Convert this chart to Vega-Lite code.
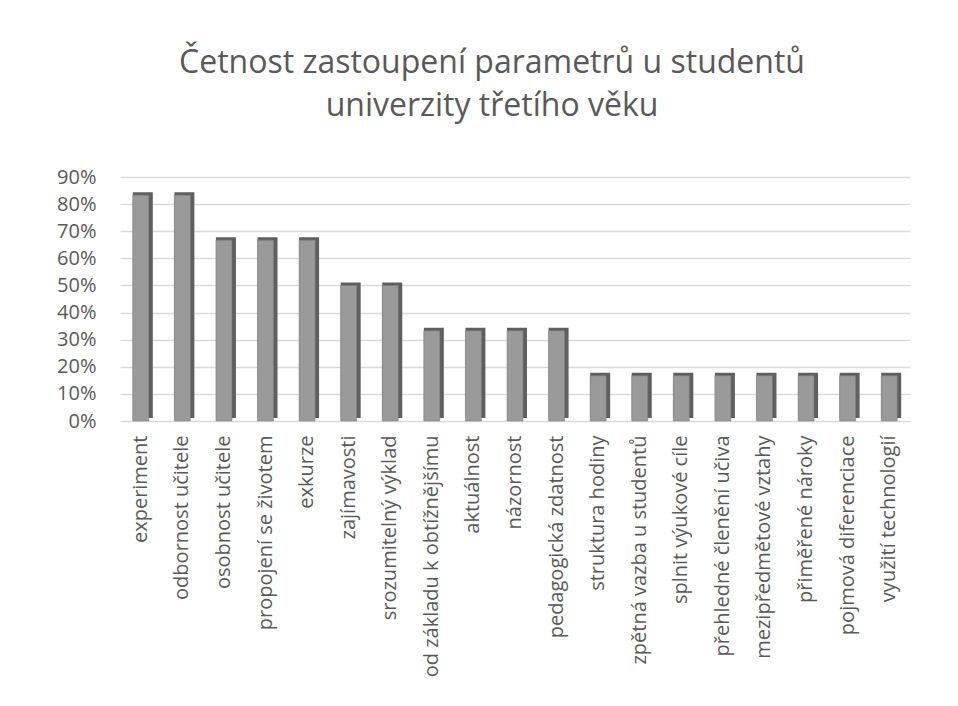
{
  "$schema": "https://vega.github.io/schema/vega-lite/v6.json",
  "autosize": "none",
  "width": 790,
  "height": 244,
  "padding": {"left": 120, "top": 177, "right": 48, "bottom": 285},
  "background": "white",
  "title": {
    "text": ["Četnost zastoupení parametrů u studentů", "univerzity třetího věku"],
    "font": "Open Sans",
    "fontSize": 32,
    "fontWeight": "normal",
    "color": "#595959",
    "lineHeight": 43,
    "anchor": "middle",
    "frame": "group",
    "dx": -23,
    "offset": 44
  },
  "data": {
    "values": [
      {"parametr": "experiment", "podil": 0.833},
      {"parametr": "odbornost učitele", "podil": 0.833},
      {"parametr": "osobnost učitele", "podil": 0.667},
      {"parametr": "propojení se životem", "podil": 0.667},
      {"parametr": "exkurze", "podil": 0.667},
      {"parametr": "zajímavosti", "podil": 0.5},
      {"parametr": "srozumitelný výklad", "podil": 0.5},
      {"parametr": "od základu k obtížnějšímu", "podil": 0.333},
      {"parametr": "aktuálnost", "podil": 0.333},
      {"parametr": "názornost", "podil": 0.333},
      {"parametr": "pedagogická zdatnost", "podil": 0.333},
      {"parametr": "struktura hodiny", "podil": 0.167},
      {"parametr": "zpětná vazba u studentů", "podil": 0.167},
      {"parametr": "splnit výukové cíle", "podil": 0.167},
      {"parametr": "přehledné členění učiva", "podil": 0.167},
      {"parametr": "mezipředmětové vztahy", "podil": 0.167},
      {"parametr": "přiměřené nároky", "podil": 0.167},
      {"parametr": "pojmová diferenciace", "podil": 0.167},
      {"parametr": "využití technologií", "podil": 0.167}
    ]
  },
  "encoding": {
    "x": {
      "field": "parametr",
      "type": "nominal",
      "sort": null,
      "title": null,
      "axis": {
        "labelAngle": -90,
        "labelAlign": "right",
        "labelBaseline": "middle",
        "labelPadding": 14,
        "labelFont": "Open Sans",
        "labelFontSize": 20,
        "labelColor": "#595959",
        "labelLimit": 0,
        "domain": false,
        "ticks": false,
        "grid": false
      }
    },
    "y": {
      "field": "podil",
      "type": "quantitative",
      "title": null,
      "scale": {"domain": [0, 0.9], "nice": false},
      "axis": {
        "values": [0, 0.1, 0.2, 0.3, 0.4, 0.5, 0.6, 0.7, 0.8, 0.9],
        "format": ".0%",
        "labelFont": "Open Sans",
        "labelFontSize": 20,
        "labelColor": "#595959",
        "labelPadding": 24,
        "domain": false,
        "ticks": false,
        "grid": true,
        "gridColor": "#d9d9d9",
        "gridWidth": 1.5
      }
    }
  },
  "layer": [
    {"mark": {"type": "bar", "width": 20, "xOffset": 2, "yOffset": -3, "color": "#5f5f5f"}},
    {"mark": {"type": "bar", "width": 16, "xOffset": 0, "color": "#9a9a9a", "stroke": "#7a7a7a", "strokeWidth": 0.5}}
  ],
  "config": {"view": {"stroke": null}}
}
